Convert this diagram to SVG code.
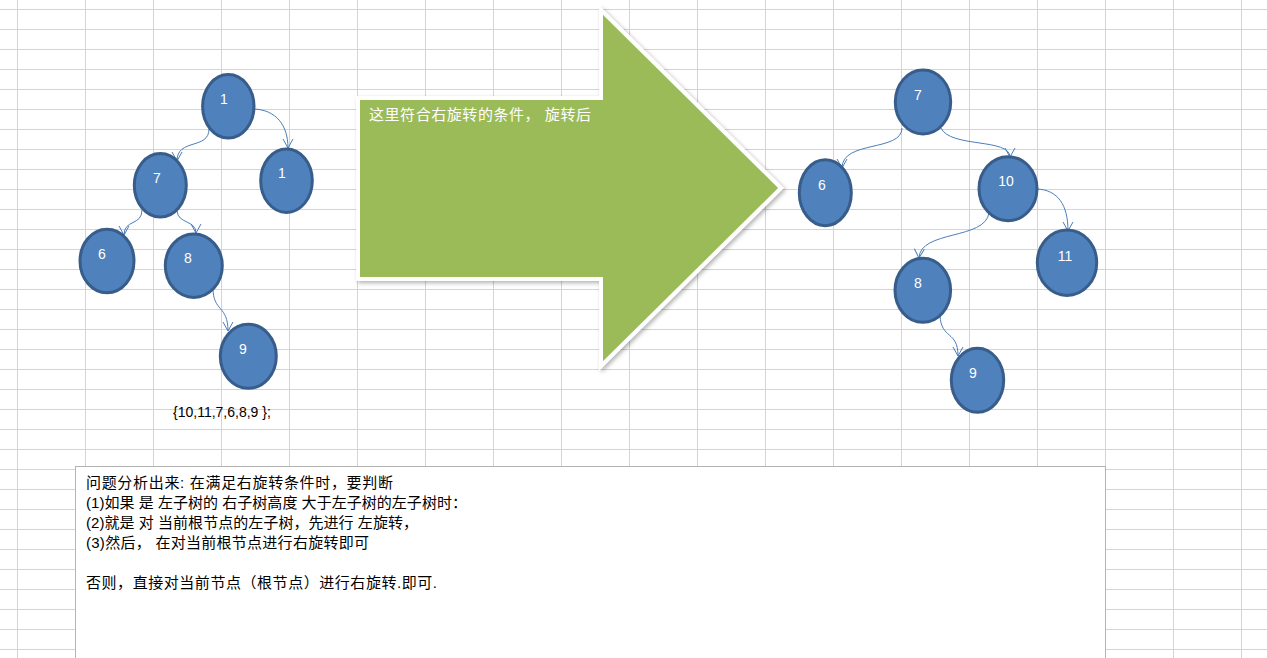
<svg xmlns="http://www.w3.org/2000/svg" width="1267" height="658" viewBox="0 0 1267 658">
<defs>
<style>
.grid line{stroke:#d4d4d4;stroke-width:1}
.node ellipse{fill:#4F81BD;stroke:#385D8A;stroke-width:3}
.node text{fill:#ffffff;font-family:"Liberation Sans","DejaVu Sans",sans-serif;font-size:14px;text-anchor:middle}
.conn path{fill:none;stroke:#4A7EBB;stroke-width:1;marker-end:url(#ah)}
.cjk{font-family:"Liberation Sans","Noto Sans CJK SC",sans-serif;font-size:15px}
</style>
<marker id="ah" viewBox="-10 -6 12 12" refX="0" refY="0" markerWidth="12" markerHeight="12" markerUnits="userSpaceOnUse" orient="auto">
<path d="M-9,-5 L0,0 L-9,5" fill="none" stroke="#4A7EBB" stroke-width="1"/>
</marker>
<filter id="sh" x="-10%" y="-10%" width="130%" height="130%">
<feDropShadow dx="2" dy="2" stdDeviation="2" flood-color="#000" flood-opacity="0.3"/>
</filter>
</defs>
<rect width="1267" height="658" fill="#ffffff"/>
<g class="grid" id="grid">
<line x1="0" y1="9.5" x2="1267" y2="9.5"/><line x1="0" y1="29.5" x2="1267" y2="29.5"/><line x1="0" y1="49.5" x2="1267" y2="49.5"/><line x1="0" y1="69.5" x2="1267" y2="69.5"/><line x1="0" y1="89.5" x2="1267" y2="89.5"/><line x1="0" y1="109.5" x2="1267" y2="109.5"/><line x1="0" y1="129.5" x2="1267" y2="129.5"/><line x1="0" y1="149.5" x2="1267" y2="149.5"/><line x1="0" y1="169.5" x2="1267" y2="169.5"/><line x1="0" y1="189.5" x2="1267" y2="189.5"/><line x1="0" y1="209.5" x2="1267" y2="209.5"/><line x1="0" y1="229.5" x2="1267" y2="229.5"/><line x1="0" y1="249.5" x2="1267" y2="249.5"/><line x1="0" y1="269.5" x2="1267" y2="269.5"/><line x1="0" y1="289.5" x2="1267" y2="289.5"/><line x1="0" y1="309.5" x2="1267" y2="309.5"/><line x1="0" y1="329.5" x2="1267" y2="329.5"/><line x1="0" y1="349.5" x2="1267" y2="349.5"/><line x1="0" y1="369.5" x2="1267" y2="369.5"/><line x1="0" y1="389.5" x2="1267" y2="389.5"/><line x1="0" y1="409.5" x2="1267" y2="409.5"/><line x1="0" y1="429.5" x2="1267" y2="429.5"/><line x1="0" y1="449.5" x2="1267" y2="449.5"/><line x1="0" y1="469.5" x2="1267" y2="469.5"/><line x1="0" y1="489.5" x2="1267" y2="489.5"/><line x1="0" y1="509.5" x2="1267" y2="509.5"/><line x1="0" y1="529.5" x2="1267" y2="529.5"/><line x1="0" y1="549.5" x2="1267" y2="549.5"/><line x1="0" y1="569.5" x2="1267" y2="569.5"/><line x1="0" y1="589.5" x2="1267" y2="589.5"/><line x1="0" y1="609.5" x2="1267" y2="609.5"/><line x1="0" y1="629.5" x2="1267" y2="629.5"/><line x1="0" y1="649.5" x2="1267" y2="649.5"/>
<line x1="17.5" y1="0" x2="17.5" y2="658"/><line x1="85.5" y1="0" x2="85.5" y2="658"/><line x1="153.5" y1="0" x2="153.5" y2="658"/><line x1="221.5" y1="0" x2="221.5" y2="658"/><line x1="289.5" y1="0" x2="289.5" y2="658"/><line x1="357.5" y1="0" x2="357.5" y2="658"/><line x1="425.5" y1="0" x2="425.5" y2="658"/><line x1="493.5" y1="0" x2="493.5" y2="658"/><line x1="561.5" y1="0" x2="561.5" y2="658"/><line x1="629.5" y1="0" x2="629.5" y2="658"/><line x1="697.5" y1="0" x2="697.5" y2="658"/><line x1="765.5" y1="0" x2="765.5" y2="658"/><line x1="833.5" y1="0" x2="833.5" y2="658"/><line x1="901.5" y1="0" x2="901.5" y2="658"/><line x1="969.5" y1="0" x2="969.5" y2="658"/><line x1="1037.5" y1="0" x2="1037.5" y2="658"/><line x1="1105.5" y1="0" x2="1105.5" y2="658"/><line x1="1173.5" y1="0" x2="1173.5" y2="658"/><line x1="1241.5" y1="0" x2="1241.5" y2="658"/>
</g>
<g id="big-arrow">
<polygon points="358,98 601,98 601,10 781,188 601,366 601,279 358,279" fill="#9BBB59" stroke="#ffffff" stroke-width="4" stroke-linejoin="miter" filter="url(#sh)"/>
<text class="cjk" x="369" y="120" fill="#ffffff" textLength="222">这里符合右旋转的条件， 旋转后</text>
</g>
<g class="conn" id="connectors">
<path d="M209,129 C209,150 177,138 177,161"/>
<path d="M254,109 C276,110 288,125 288,148"/>
<path d="M142,210 C142,226 124,219 124,235"/>
<path d="M177,211 C178,224 196,220 196,233"/>
<path d="M213,288 C213,312 228,305 228,331"/>
<path d="M902,128 C902,152 842,140 842,168"/>
<path d="M941,128 C950,148 1010,138 1010,157"/>
<path d="M1037,189 C1058,190 1068,205 1068,231"/>
<path d="M989,213 C985,240 920,230 919,258"/>
<path d="M940,315 C941,340 958,330 958,356"/>
</g>
<g class="node" id="L1"><ellipse cx="228.3" cy="106.3" rx="25.7" ry="31.7"/><text x="224" y="104">1</text></g>
<g class="node" id="L1r"><ellipse cx="286.5" cy="180.7" rx="25.8" ry="31.7"/><text x="282" y="178">1</text></g>
<g class="node" id="L7"><ellipse cx="160.3" cy="185.3" rx="26" ry="31.7"/><text x="157" y="183">7</text></g>
<g class="node" id="L6"><ellipse cx="107" cy="261" rx="27" ry="31.7"/><text x="102" y="259">6</text></g>
<g class="node" id="L8"><ellipse cx="193.8" cy="265.7" rx="28.5" ry="31.7"/><text x="188" y="263">8</text></g>
<g class="node" id="L9"><ellipse cx="248.3" cy="356.3" rx="28" ry="32"/><text x="243" y="354">9</text></g>
<g class="node" id="R7"><ellipse cx="923" cy="102" rx="27.7" ry="32"/><text x="918" y="100">7</text></g>
<g class="node" id="R6"><ellipse cx="825.3" cy="192.7" rx="26" ry="33"/><text x="822" y="190">6</text></g>
<g class="node" id="R10"><ellipse cx="1008" cy="188.7" rx="29" ry="32"/><text x="1006" y="186">10</text></g>
<g class="node" id="R11"><ellipse cx="1067" cy="262.7" rx="29.7" ry="32.7"/><text x="1065" y="261">11</text></g>
<g class="node" id="R8"><ellipse cx="922.8" cy="290.3" rx="27.8" ry="32"/><text x="918" y="288">8</text></g>
<g class="node" id="R9"><ellipse cx="977.5" cy="380.3" rx="26.2" ry="32"/><text x="973" y="378">9</text></g>
<g id="array-label">
<text x="173" y="417" font-family="Liberation Sans, sans-serif" font-size="14" fill="#000000">{10,11,7,6,8,9 };</text>
</g>
<g id="note-box">
<rect x="75.5" y="466.5" width="1030" height="200" fill="#ffffff" stroke="#b4b4b4" stroke-width="1"/>
<text class="cjk" x="86" y="488" fill="#000000" textLength="307">问题分析出来: 在满足右旋转条件时，要判断</text>
<text class="cjk" x="86" y="508" fill="#000000" textLength="381">(1)如果 是 左子树的 右子树高度 大于左子树的左子树时：</text>
<text class="cjk" x="86" y="528" fill="#000000" textLength="332">(2)就是 对 当前根节点的左子树，先进行 左旋转，</text>
<text class="cjk" x="86" y="548" fill="#000000" textLength="283">(3)然后， 在对当前根节点进行右旋转即可</text>
<text class="cjk" x="86" y="588" fill="#000000" textLength="351">否则，直接对当前节点（根节点）进行右旋转.即可.</text>
</g>
</svg>
